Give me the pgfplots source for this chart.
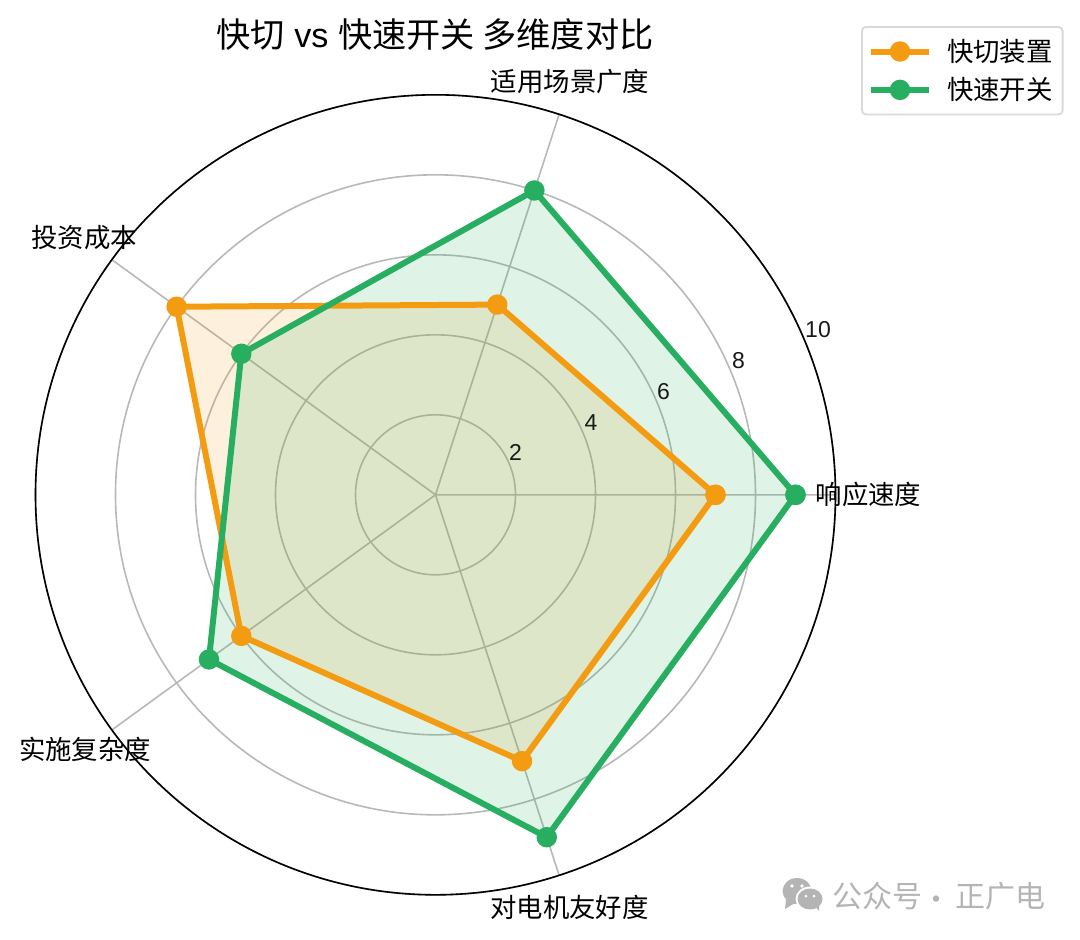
\documentclass[border=0pt]{standalone}
\usepackage{fontspec}
\setmainfont{Liberation Sans}
\newfontfamily\cjk{Noto Sans CJK SC}
\usepackage{pgfplots}
\usepgfplotslibrary{polar}
\pgfplotsset{compat=1.18}
\definecolor{qieorange}{HTML}{F39C12}
\definecolor{kggreen}{HTML}{27AE60}
\definecolor{gridgray}{HTML}{B8B8B8}
\definecolor{wmgray}{HTML}{B4B4B4}

% angle, score; first row repeated to close the polygon
\pgfplotstableread{
a r
0 7
72 5
144 8
216 6
288 7
360 7
}\qiedata
\pgfplotstableread{
a r
0 9
72 8
144 6
216 7
288 9
360 9
}\kgdata

\begin{document}
\begin{tikzpicture}[x=0.5pt,y=-0.5pt]
% page in reference pixels, y down
\path[use as bounding box] (0,0) rectangle (1080,939);
\begin{polaraxis}[
    at={(217.75pt,-247.4pt)}, anchor=center,
    width=400pt, height=400pt, scale only axis,
    xmin=0, xmax=360, ymin=0, ymax=10,
    xtick={0,72,144,216,288},
    ytick={2,4,6,8,10},
    xticklabels={}, yticklabels={},
    major tick length=0pt,
    grid=major,
    grid style={gridgray, line width=0.8pt},
    y axis line style={draw=none},
    x axis line style={black, line width=0.8pt},
    clip=false,
    legend style={
        at={(axis description cs:1.285,1.086)}, anchor=north east,
        draw=black!15, line width=0.9pt, rounded corners=2pt,
        font=\fontsize{13.2}{15}\selectfont\cjk,
        inner xsep=3pt, inner ysep=5pt,
        row sep=4.6pt,
        nodes={inner ysep=1pt},
    },
    legend cell align=left,
    legend image code/.code={
        \draw[#1, mark repeat=2, mark phase=2] plot coordinates {(0pt,0pt)(14.5pt,0pt)(29pt,0pt)};
    },
    every axis plot/.append style={line join=round},
]
\addplot[draw=none, fill=qieorange, fill opacity=0.15, forget plot] table[x=a,y=r] {\qiedata};
\addplot[draw=none, fill=kggreen, fill opacity=0.15, forget plot] table[x=a,y=r] {\kgdata};
\addplot[qieorange, line width=3pt, mark=*, mark size=3.6pt, mark options={solid, fill=qieorange, draw=none}] table[x=a,y=r] {\qiedata};
\addlegendentry{\hspace{5.5pt}快切装置}
\addplot[kggreen, line width=3pt, mark=*, mark size=3.6pt, mark options={solid, fill=kggreen, draw=none}] table[x=a,y=r] {\kgdata};
\addlegendentry{\hspace{5.5pt}快速开关}
\end{polaraxis}

% title
\node[font=\fontsize{17.1}{19}\selectfont] at (435,34) {{\cjk 快切} vs {\cjk 快速开关 多维度对比}};

% category labels
\begin{scope}[every node/.style={font=\fontsize{13.2}{15}\selectfont\cjk, text=black}]
\node at (868.5,494) {响应速度};
\node at (570,82) {适用场景广度};
\node at (84,238) {投资成本};
\node at (85,749) {实施复杂度};
\node at (569.5,907) {对电机友好度};
\end{scope}

% radial tick labels
\begin{scope}[every node/.style={font=\fontsize{11.5}{13}\selectfont, text=black!90}]
\node at (515.5,452) {2};
\node at (591,423) {4};
\node at (663.5,392) {6};
\node at (738.5,361) {8};
\node at (818,330) {10};
\end{scope}

% watermark
\fill[wmgray] (797,891) ellipse (14.5 and 13);
\fill[wmgray] (786,900) -- (785,909) -- (795,903) -- cycle;
\fill[white] (810,899) ellipse (14.5 and 12.5);
\fill[wmgray] (810,899) ellipse (12.5 and 10.5);
\fill[wmgray] (815,906) -- (819,911) -- (819,902) -- cycle;
\fill[white] (792,886) circle (1.8) (802,886) circle (1.8) (806,896) circle (1.5) (814,896) circle (1.5);
\begin{scope}[every node/.style={font=\fontsize{15}{17}\selectfont\cjk, text=wmgray}]
\node at (877,896) {公众号};
\node at (936,903) {·};
\node at (1000,896) {正广电};
\end{scope}
\end{tikzpicture}
\end{document}
